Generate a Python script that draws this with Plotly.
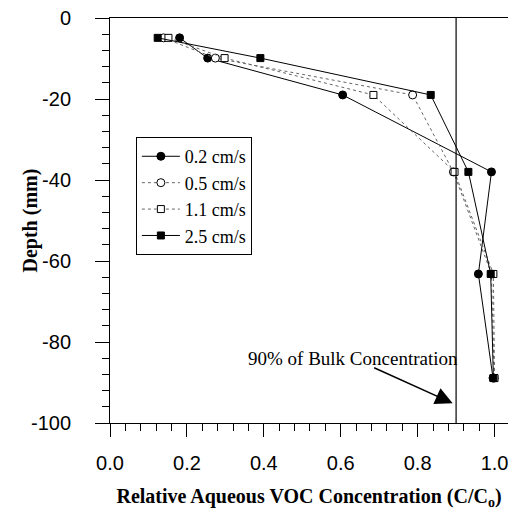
import plotly.graph_objects as go

depth = [-4.9, -9.9, -19.0, -38.0, -63.2, -88.9]
c_02 = [0.181, 0.254, 0.605, 0.992, 0.958, 0.996]
c_05 = [0.139, 0.274, 0.787, 0.893, 0.992, 0.999]
c_11 = [0.152, 0.298, 0.685, 0.896, 0.997, 1.000]
c_25 = [0.124, 0.391, 0.834, 0.932, 0.990, 0.997]
labels = ["0.2 cm/s", "0.5 cm/s", "1.1 cm/s", "2.5 cm/s"]
x_ticks = [0, 0.2, 0.4, 0.6, 0.8, 1.0]
x_ticklabels = ["0.0", "0.2", "0.4", "0.6", "0.8", "1.0"]
y_ticks = [0, -20, -40, -60, -80, -100]
y_ticklabels = ["0", "-20", "-40", "-60", "-80", "-100"]
bulk_level = 0.9

SERIF = "Liberation Serif, Times New Roman, serif"
SANS = "Liberation Sans, Arial, sans-serif"

fig = go.Figure()
styles = [
    (c_02, dict(color="black", width=1, dash="solid"), dict(symbol="circle", size=8, color="black", line=dict(color="black", width=1))),
    (c_05, dict(color="#666666", width=1, dash="dot"), dict(symbol="circle", size=8, color="white", line=dict(color="black", width=1))),
    (c_11, dict(color="#666666", width=1, dash="dot"), dict(symbol="square", size=7, color="white", line=dict(color="black", width=1))),
    (c_25, dict(color="black", width=1, dash="solid"), dict(symbol="square", size=7, color="black", line=dict(color="black", width=1))),
]
for (vals, ln, mk), lab in zip(styles, labels):
    fig.add_trace(go.Scatter(x=vals, y=depth, mode="lines+markers", name=lab,
                             line=ln, marker=mk))

fig.add_shape(type="line", x0=bulk_level, x1=bulk_level, y0=0, y1=-100,
              xref="x", yref="y", line=dict(color="black", width=1.2))

fig.add_annotation(x=0.631, y=-84.0, xref="x", yref="y", text="90% of Bulk Concentration",
                   showarrow=False, font=dict(family=SERIF, size=19, color="black"),
                   xanchor="center", yanchor="middle")
fig.add_annotation(x=0.891, y=-95.1, ax=0.683, ay=-86.2, xref="x", yref="y",
                   axref="x", ayref="y", text="", showarrow=True,
                   arrowhead=2, arrowsize=2.3, arrowwidth=1.5, arrowcolor="black")

# y-axis title placed as rotated text
fig.add_annotation(x=-0.201, y=0.5, xref="paper", yref="paper", text="<b>Depth (mm)</b>",
                   textangle=-90, showarrow=False, xanchor="center", yanchor="middle",
                   font=dict(family=SERIF, size=20, color="black"))

fig.update_layout(
    width=509, height=510,
    margin=dict(l=110, r=1, t=18, b=87),
    paper_bgcolor="white", plot_bgcolor="white",
    showlegend=True,
    legend=dict(x=0.065, y=0.706, xanchor="left", yanchor="top",
                bordercolor="black", borderwidth=1, bgcolor="white",
                font=dict(family=SERIF, size=18, color="black"),
                itemwidth=38, tracegroupgap=0),
    xaxis=dict(range=[0, 1.035], tickvals=x_ticks, ticktext=x_ticklabels,
               ticks="outside", ticklen=13, tickwidth=1, tickcolor="black",
               minor=dict(ticks="outside", ticklen=7, dtick=0.04, tick0=0, tickcolor="black", showgrid=False),
               showline=True, linecolor="black", linewidth=1, mirror=True,
               showgrid=False, zeroline=False,
               ticklabelstandoff=9,
               tickfont=dict(family=SANS, size=20, color="black"),
               title=dict(text="<b>Relative Aqueous VOC Concentration (C/C<sub>o</sub>)</b>",
                          font=dict(family=SERIF, size=20, color="black"), standoff=15)),
    yaxis=dict(range=[-100, 0], tickvals=y_ticks, ticktext=y_ticklabels,
               ticks="outside", ticklen=14, tickwidth=1, tickcolor="black",
               minor=dict(ticks="outside", ticklen=7, dtick=4, tick0=0, tickcolor="black", showgrid=False),
               showline=True, linecolor="black", linewidth=1,
               showgrid=False, zeroline=False,
               ticklabelstandoff=20,
               tickfont=dict(family=SANS, size=20, color="black")),
)

fig.write_html("out.html")
